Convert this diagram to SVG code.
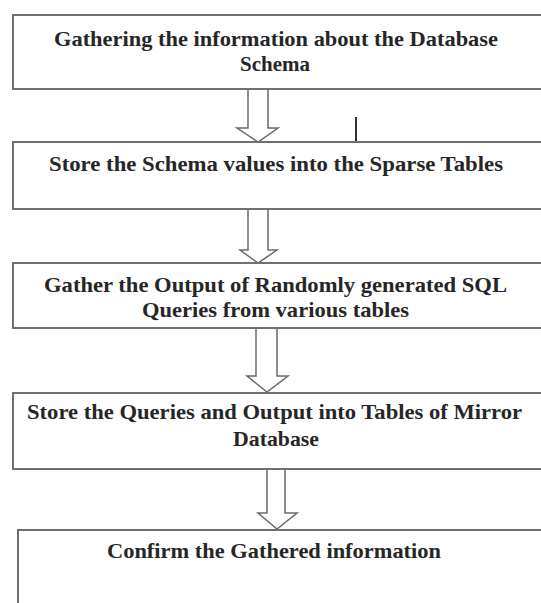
<svg xmlns="http://www.w3.org/2000/svg" width="541" height="603" viewBox="0 0 541 603">
  <style>
    .box { fill: #ffffff; stroke: #6f6f6f; stroke-width: 2; }
    .lbl { font-family: "Liberation Serif", "Times New Roman", serif; font-weight: bold; font-size: 21px; fill: #262626; text-anchor: middle; }
    .flow { fill: #ffffff; stroke: #6a6a6a; stroke-width: 1.5; stroke-linejoin: miter; }
    .tick { stroke: #333333; stroke-width: 2; }
  </style>
  <rect width="541" height="603" fill="#ffffff"/>

  <!-- connectors: hollow block arrows between steps -->
  <g id="connectors">
    <path class="flow" d="M248,89 L268,89 L268,128 L278,128 L258,142 L237,128 L248,128 Z"/>
    <path class="flow" d="M248,209 L268,209 L268,250 L277,250 L258,263 L240,250 L248,250 Z"/>
    <path class="flow" d="M256,328 L277,328 L277,376 L288,376 L267,392 L247,376 L256,376 Z"/>
    <path class="flow" d="M267,469 L285,469 L285,513 L297,513 L277,529 L258,513 L267,513 Z"/>
    <line class="tick" x1="356" y1="117" x2="356" y2="141"/>
  </g>

  <g id="step1">
    <rect class="box" x="13" y="15" width="540" height="74"/>
    <text class="lbl" x="276" y="46" textLength="444" lengthAdjust="spacingAndGlyphs">Gathering the information about the Database</text>
    <text class="lbl" x="275" y="71">Schema</text>
  </g>

  <g id="step2">
    <rect class="box" x="13" y="142" width="540" height="67"/>
    <text class="lbl" x="276" y="171" textLength="454" lengthAdjust="spacingAndGlyphs">Store the Schema values into the Sparse Tables</text>
  </g>

  <g id="step3">
    <rect class="box" x="13" y="263" width="540" height="65"/>
    <text class="lbl" x="275.5" y="292" textLength="463" lengthAdjust="spacingAndGlyphs">Gather the Output of Randomly generated SQL</text>
    <text class="lbl" x="275.5" y="317" textLength="267" lengthAdjust="spacingAndGlyphs">Queries from various tables</text>
  </g>

  <g id="step4">
    <rect class="box" x="13" y="393" width="540" height="76"/>
    <text class="lbl" x="274.5" y="419" textLength="495" lengthAdjust="spacingAndGlyphs">Store the Queries and Output into Tables of Mirror</text>
    <text class="lbl" x="276" y="446" textLength="86" lengthAdjust="spacingAndGlyphs">Database</text>
  </g>

  <g id="step5">
    <rect class="box" x="18" y="530" width="540" height="90"/>
    <text class="lbl" x="274" y="558" textLength="334" lengthAdjust="spacingAndGlyphs">Confirm the Gathered information</text>
  </g>
</svg>
